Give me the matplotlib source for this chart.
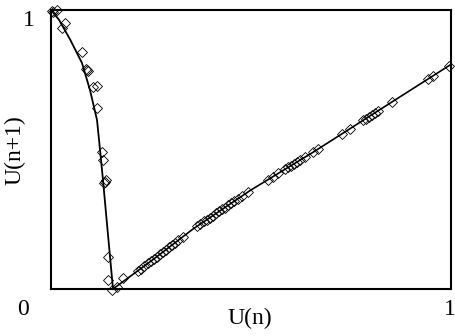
import matplotlib.pyplot as plt

plt.rcParams['font.family'] = ['Liberation Serif', 'DejaVu Serif']

# fitted return map, left (falling) branch
left_x = [0.0, 0.02, 0.0475, 0.0775, 0.0975, 0.115, 0.1225, 0.13, 0.1425, 0.155]
left_y = [1.0, 0.965, 0.895, 0.81, 0.713, 0.606, 0.5, 0.39, 0.194, 0.0]

# fitted return map, right (rising) branch
right_x = [0.155, 0.25, 0.355, 0.5, 0.655, 0.83, 1.0]
right_y = [0.0, 0.1, 0.215, 0.355, 0.49, 0.65, 0.805]

# measured pairs U(n), U(n+1)
pts_x = [0.002, 0.015, 0.005, 0.035, 0.0275, 0.0775, 0.088, 0.09, 0.092,
         0.115, 0.105, 0.115, 0.1275, 0.13, 0.1375, 0.135, 0.1325,
         0.1425, 0.1425, 0.1525,
         0.165, 0.18, 0.2175, 0.225, 0.2325, 0.2425, 0.25, 0.2575, 0.265,
         0.2725, 0.28, 0.2875, 0.295, 0.3025, 0.31, 0.3175, 0.33,
         0.365, 0.3725, 0.3825, 0.39, 0.3975, 0.405, 0.4125, 0.42, 0.4275,
         0.435, 0.4425, 0.45, 0.4575, 0.4675, 0.4775, 0.4925,
         0.5425, 0.555, 0.5675, 0.585, 0.5925, 0.6, 0.6075, 0.615, 0.6225,
         0.635, 0.655, 0.6675, 0.7275, 0.7475, 0.78, 0.7875, 0.795, 0.8025,
         0.81, 0.8175, 0.8525, 0.9425, 0.955, 0.995]
pts_y = [0.996, 1.0, 0.993, 0.953, 0.935, 0.849, 0.79, 0.785, 0.78,
         0.728, 0.724, 0.649, 0.491, 0.462, 0.391, 0.385, 0.38,
         0.115, 0.032, -0.004,
         0.007, 0.039, 0.065, 0.073, 0.081, 0.092, 0.1, 0.108, 0.116,
         0.125, 0.133, 0.141, 0.149, 0.157, 0.166, 0.174, 0.188,
         0.225, 0.232, 0.242, 0.249, 0.256, 0.263, 0.271, 0.278, 0.285,
         0.292, 0.3, 0.307, 0.314, 0.324, 0.333, 0.348,
         0.392, 0.403, 0.414, 0.429, 0.436, 0.442, 0.449, 0.455, 0.462,
         0.473, 0.49, 0.501, 0.556, 0.574, 0.604, 0.611, 0.618, 0.625,
         0.632, 0.639, 0.67, 0.752, 0.764, 0.8]

fig = plt.figure(figsize=(4.55, 3.36), dpi=100)
ax = fig.add_axes([51 / 455, 47 / 336, 400 / 455, 279 / 336])

ax.plot(left_x, left_y, color='black', lw=1.3)
ax.plot(right_x, right_y, color='black', lw=1.2)
ax.plot(pts_x, pts_y, linestyle='none', marker='D', ms=5.5, mfc='none',
        mec='black', mew=0.6, clip_on=False)

ax.set_xlim(0, 1)
ax.set_ylim(0, 1)
ax.set_xticks([])
ax.set_yticks([])
for s in ax.spines.values():
    s.set_linewidth(1.5)

fs = 17
ax.text(-0.07, -0.072, '0', fontsize=fs, ha='center', va='center')
ax.text(0.9975, -0.072, '1', fontsize=fs, ha='center', va='center')
ax.text(-0.055, 0.964, '1', fontsize=fs, ha='center', va='center')
ax.text(0.4975, -0.104, 'U(n)', fontsize=fs, ha='center', va='center')
ax.text(-0.09, 0.498, 'U(n+1)', fontsize=fs, ha='center', va='center',
        rotation=90)

fig.savefig('out.png', dpi=100)
